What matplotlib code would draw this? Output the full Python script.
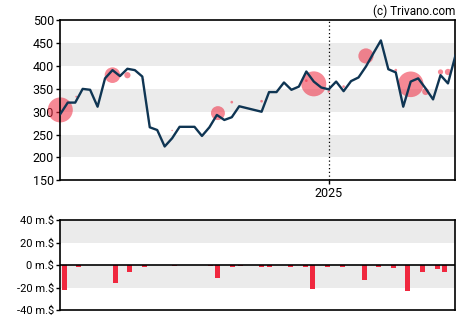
import numpy as np
import pandas as pd
import matplotlib
matplotlib.use("Agg")
import matplotlib.pyplot as plt
import matplotlib.dates as mdates

plt.rcParams['font.family'] = ['Roboto', 'DejaVu Sans']

# share price (weekly closes)
price_dates = pd.to_datetime([
    '2024-04-24', '2024-05-01', '2024-05-08', '2024-05-15', '2024-05-22', '2024-05-29',
    '2024-06-05', '2024-06-12', '2024-06-19', '2024-06-26', '2024-07-03', '2024-07-10',
    '2024-07-17', '2024-07-24', '2024-07-31', '2024-08-07', '2024-08-14', '2024-08-21',
    '2024-08-28', '2024-09-04', '2024-09-11', '2024-09-18', '2024-09-25', '2024-10-02',
    '2024-10-09', '2024-10-16', '2024-10-30', '2024-11-06', '2024-11-13', '2024-11-20',
    '2024-11-27', '2024-12-04', '2024-12-11', '2024-12-18', '2024-12-25', '2025-01-01',
    '2025-01-08', '2025-01-15', '2025-01-22', '2025-01-29', '2025-02-05', '2025-02-12',
    '2025-02-19', '2025-02-26', '2025-03-05', '2025-03-12', '2025-03-19', '2025-03-26',
    '2025-04-02', '2025-04-09', '2025-04-16', '2025-04-23', '2025-04-30'])
prices = [295, 320, 320, 350, 348, 311, 373, 391, 378, 394, 391, 377,
          266, 260, 224, 242, 267, 267, 267, 247, 266, 293, 282, 288,
          312, 308, 300, 343, 343, 364, 348, 355, 388, 366, 353, 349,
          366, 345, 367, 375, 399, 428, 456, 393, 386, 311, 366, 373,
          351, 327, 380, 362, 423]

# insider trades: day offset from start, price level, trade size (bubble)
trade_days = [0, 15, 49, 63, 78, 105, 148, 161, 189, 231, 238, 252, 266, 287, 315, 329, 343, 357, 364]
trade_prices = [304, 333, 380, 380, 370, 259, 297, 321, 323, 368, 361, 344, 355, 422, 391, 360, 344, 387, 387]
trade_sizes = [12, 0.9, 7.5, 3, 0.9, 0.7, 6.7, 1.3, 1.3, 1.3, 12, 1.1, 1.3, 7.3, 1.3, 12.3, 3.3, 2.5, 3]

# net insider flow, million $
flow_days = [4, 17, 52, 65, 79, 107, 141, 148, 162, 169, 189, 196, 216, 230, 237, 251,
             265, 286, 299, 313, 326, 340, 354, 361]
flow_values = [-22.6, -2.1, -16.3, -5.7, -2.0, -1.2, -1.2, -11.9, -2.0, -1.2, -2.0, -2.0,
               -2.0, -2.0, -21.7, -2.0, -2.0, -13.6, -2.0, -3.0, -23.5, -5.7, -3.8, -5.7]

start = price_dates[0]
trade_dates = [start + pd.Timedelta(days=d) for d in trade_days]
flow_dates = [start + pd.Timedelta(days=d) for d in flow_days]

navy = '#0f3553'
red = '#f0283f'
band = '#ebebeb'

fig = plt.figure(figsize=(4.7, 3.25), dpi=100)
ax = fig.add_axes([0.1283, 0.4452, 0.8407, 0.4923])
ax2 = fig.add_axes([0.1283, 0.0462, 0.8407, 0.276])

# top panel
for lo, hi in [(200, 250), (300, 350), (400, 450)]:
    ax.axhspan(lo, hi, color=band, lw=0, zorder=0)
ax.axvline(pd.Timestamp('2025-01-01'), color='black', ls=(0, (1, 2)), lw=0.9, zorder=1)
ax.scatter(trade_dates, trade_prices, s=[(1.5 * r) ** 2 for r in trade_sizes],
           color=red, alpha=0.55, lw=0, zorder=2, clip_on=False)
ax.plot(price_dates, prices, color=navy, lw=1.7, zorder=3)
ax.set_xlim(price_dates[0], price_dates[-1])
ax.set_ylim(150, 500)
ax.set_yticks(range(150, 501, 50))
ax.set_xticks([pd.Timestamp('2025-01-01')])
ax.set_xticklabels(['2025'])

# bottom panel
ax2.axhspan(20, 40, color=band, lw=0, zorder=0)
ax2.axhspan(-20, 0, color=band, lw=0, zorder=0)
ax2.bar(flow_dates, flow_values, width=4.7, color=red, zorder=2)
ax2.axhline(0, color='black', lw=1.2, zorder=3)
ax2.set_xlim(price_dates[0], price_dates[-1])
ax2.set_ylim(-40, 40)
ax2.set_yticks([-40, -20, 0, 20, 40])
ax2.set_yticklabels(['-40 m.$', '-20 m.$', '0 m.$', '20 m.$', '40 m.$'])
ax2.set_xticks([])

for a in (ax, ax2):
    for sp in a.spines.values():
        sp.set_linewidth(1.2)
    a.tick_params(labelsize=9, length=3, width=1, pad=1.5, colors='black')
ax2.tick_params(labelsize=8)

fig.text(0.968, 0.965, '(c) Trivano.com', ha='right', va='center', fontsize=8.5)

fig.savefig('out.png', dpi=100)
